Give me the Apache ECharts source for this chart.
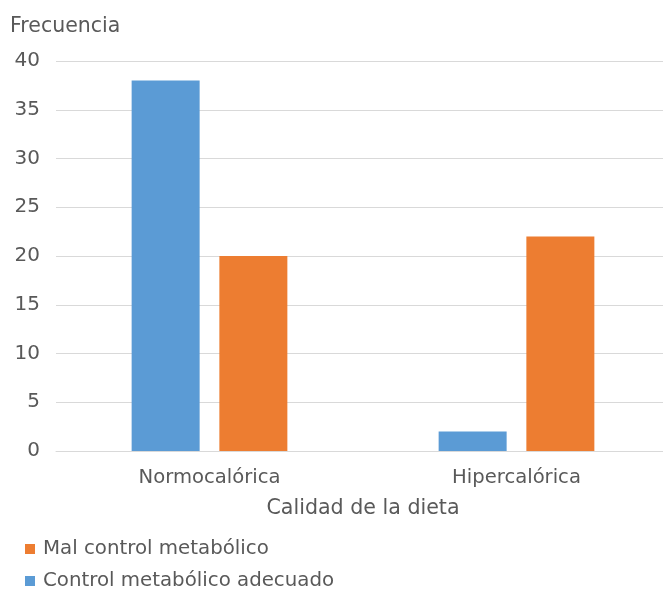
<!DOCTYPE html>
<html>
<head>
<meta charset="utf-8">
<script src="https://cdn.jsdelivr.net/npm/echarts@6/dist/echarts.min.js"></script>
<style>
  html, body { margin: 0; padding: 0; background: #fff; }
  #chart { width: 663px; height: 590px; }
</style>
</head>
<body>
<div id="chart"></div>
<script>
// Frequency of metabolic control by diet quality
const categories = ['Normocalórica', 'Hipercalórica'];
const controlAdecuado = [38, 2];
const malControl = [20, 22];
const yTicks = { min: 0, max: 40, interval: 5 };

const textColor = '#595959';
const font = 'DejaVu Sans';

const chart = echarts.init(document.getElementById('chart'), null, { renderer: 'canvas' });
chart.setOption({
  backgroundColor: '#ffffff',
  animation: false,
  title: {
    text: 'Frecuencia',
    left: 5,
    top: 11,
    textStyle: { color: textColor, fontFamily: font, fontSize: 20.5, fontWeight: 'normal' }
  },
  grid: { left: 56, top: 61, bottom: 139, width: 614, containLabel: false, outerBoundsMode: 'none' },
  legend: {
    orient: 'vertical',
    left: 25,
    top: 539,
    height: 80,
    padding: 0,
    itemWidth: 10,
    itemHeight: 10,
    itemGap: 12,
    icon: 'rect',
    data: ['Mal control metabólico', 'Control metabólico adecuado'],
    textStyle: { color: textColor, fontFamily: font, fontSize: 19.8, lineHeight: 20, padding: [0, 0, 0, 3] }
  },
  xAxis: {
    type: 'category',
    data: categories,
    name: 'Calidad de la dieta',
    nameLocation: 'middle',
    nameGap: 48,
    nameTextStyle: { color: textColor, fontFamily: font, fontSize: 20.6, verticalAlign: 'top', lineHeight: 20 },
    axisLine: { show: true, lineStyle: { color: '#d9d9d9', width: 1 } },
    axisTick: { show: false },
    axisLabel: { color: textColor, fontFamily: font, fontSize: 19.6, margin: 17 }
  },
  yAxis: {
    type: 'value',
    min: yTicks.min,
    max: yTicks.max,
    interval: yTicks.interval,
    axisLine: { show: false },
    axisTick: { show: false },
    splitLine: { lineStyle: { color: '#d9d9d9', width: 1 } },
    axisLabel: { color: textColor, fontFamily: font, fontSize: 20, margin: 16 }
  },
  series: [
    {
      name: 'Control metabólico adecuado',
      type: 'bar',
      data: controlAdecuado,
      barWidth: 68,
      barGap: '29%',
      itemStyle: { color: '#5b9bd5' }
    },
    {
      name: 'Mal control metabólico',
      type: 'bar',
      data: malControl,
      barWidth: 68,
      barGap: '29%',
      itemStyle: { color: '#ed7d31' }
    }
  ]
});
</script>
</body>
</html>
